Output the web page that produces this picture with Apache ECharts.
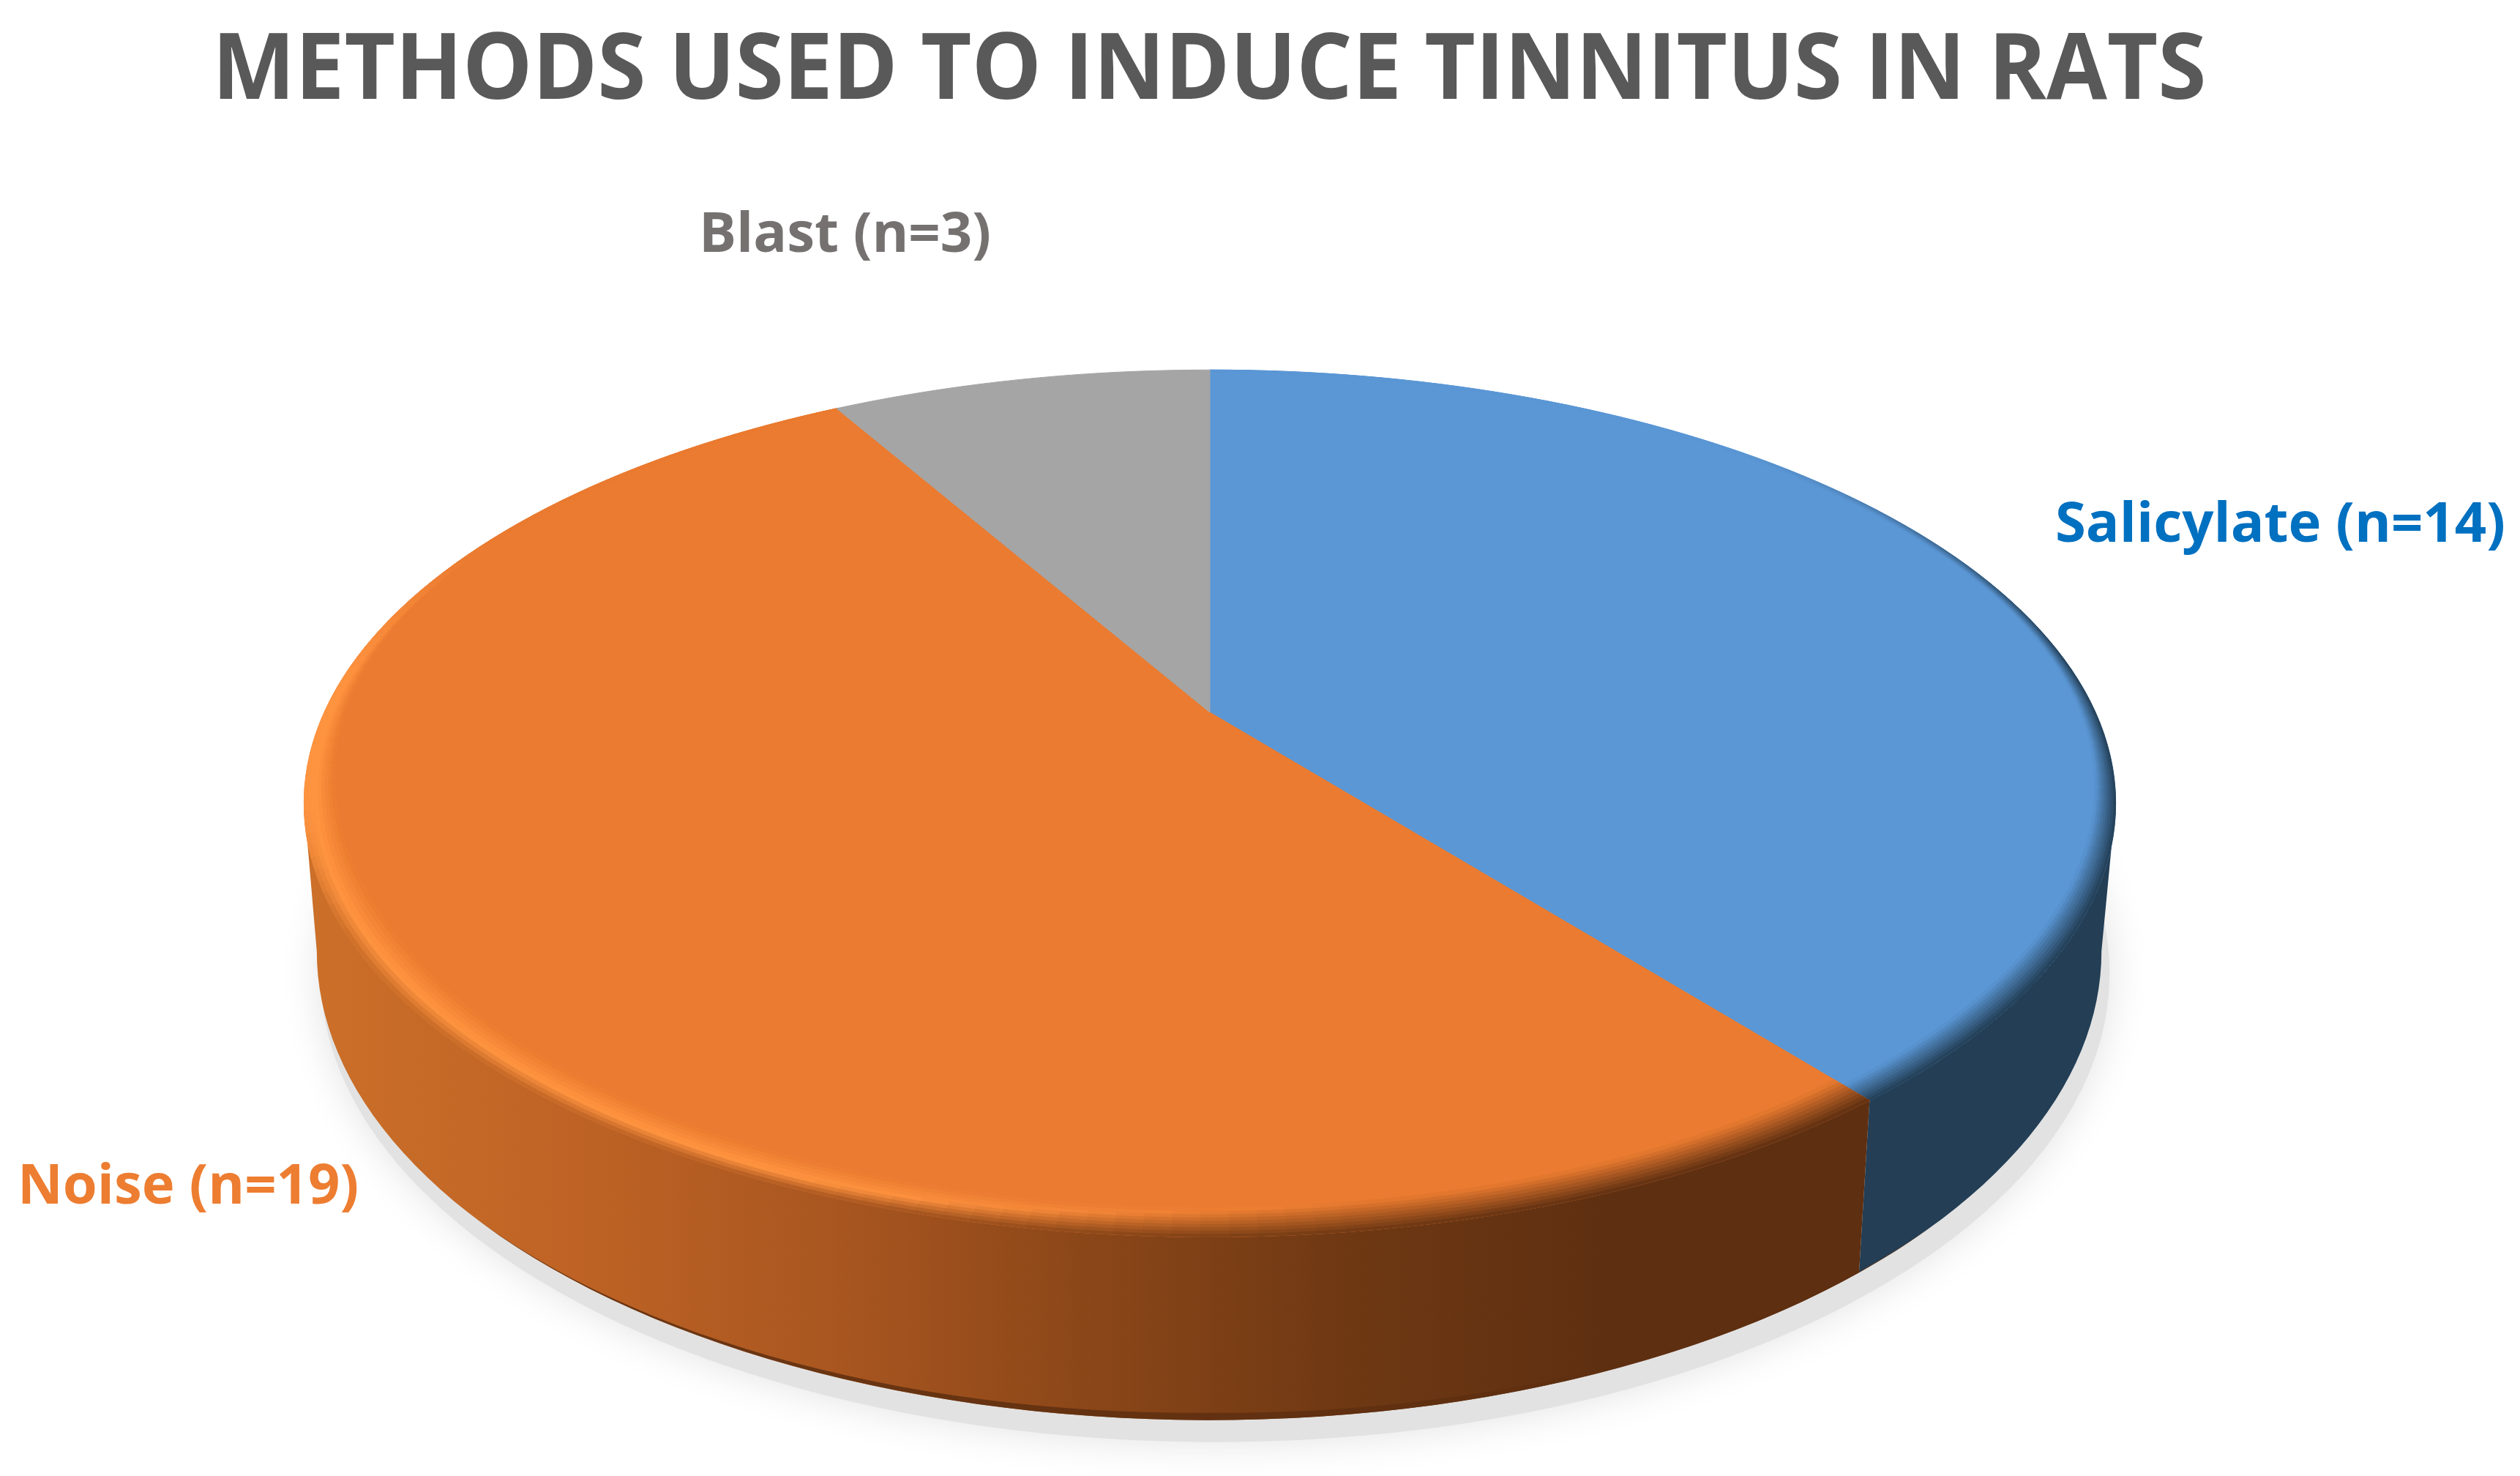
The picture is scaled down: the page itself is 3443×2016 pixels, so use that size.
<!DOCTYPE html>
<html>
<head>
<meta charset="utf-8">
<title>Methods used to induce tinnitus in rats</title>
<style>
  html, body { margin: 0; padding: 0; background: #fff; }
  #chart { width: 3443px; height: 2016px; }
</style>
<script src="https://cdn.jsdelivr.net/npm/echarts@6/dist/echarts.min.js"></script>
</head>
<body>
<div id="chart"></div>
<script>
const chartTitle = "METHODS USED TO INDUCE TINNITUS IN RATS";
const categories = ["Salicylate (n=14)", "Noise (n=19)", "Blast (n=3)"];
const counts = [14, 19, 3];

const topColors = ["#5B97D5", "#EA7B30", "#A5A5A5"];
const labelColors = ["#0070C0", "#ED7D31", "#767171"];
const labelPos = [[2808, 718], [24, 1622], [955, 322]];
const orangeWall = ["#CB6F29", "#BE6325", "#A95620", "#8A4618", "#6E3813", "#5E2F11", "#5E2F11"];
const blueWall = "#233E55";

// pie plane seen in perspective: near edge bigger than far edge
const persp = 0.21;
const angleWarp = 0.85; // small correction, the slice edges sit a bit further round in the picture
const topDisc = { cx: 1653, cy: 973, X: 1210, Y: 566 };
const lowDisc = { cx: 1652, cy: 1165, X: 1192, Y: 612 };
const shadowDisc = { cx: 1660, cy: 1195, X: 1195, Y: 612 };
const wallRange = [102.1, 257.9]; // part of the rim that faces the viewer
const STEP = 1.5;
const BANDS = 9;

const total = counts.reduce((a, b) => a + b, 0);

function project(d, r, deg) {
  const a = (deg * Math.PI) / 180;
  const u = r * Math.sin(a);
  const v = -r * Math.cos(a);
  const w = 1 - persp * v;
  return [d.cx + (d.X * u) / w, d.cy + (d.Y * v) / w];
}

function arc(d, r, from, to) {
  const pts = [];
  const n = Math.max(1, Math.ceil(Math.abs(to - from) / STEP));
  for (let i = 0; i <= n; i++) {
    pts.push(project(d, r, from + ((to - from) * i) / n));
  }
  return pts;
}

function warp(deg) {
  return deg + angleWarp * (1 - Math.cos((deg * Math.PI) / 180));
}

function sliceAngles(idx) {
  let sum = 0;
  for (let i = 0; i < idx; i++) sum += counts[i];
  return [warp((sum / total) * 360), warp(((sum + counts[idx]) / total) * 360)];
}

function smooth(a, b, x) {
  const t = Math.min(1, Math.max(0, (x - a) / (b - a)));
  return t * t * (3 - 2 * t);
}

function mix(c1, c2, t) {
  return echarts.color.lerp(Math.min(1, Math.max(0, t)), [c1, c2]);
}

function orangeAt(x) {
  const t = Math.min(1, Math.max(0, (x - 430) / (2560 - 430)));
  return echarts.color.lerp(t, orangeWall);
}

function bevelWidth(idx, deg) {
  if (idx === 0) return 0.012 + 0.022 * smooth(70, 135, deg);
  if (idx === 1) return 0.045 - 0.037 * smooth(235, 300, deg);
  return 0;
}

// colour of the bevel on the top face. t = 0 outer edge, 1 inner edge
function bevelColor(idx, deg, t, x) {
  const base = topColors[idx];
  if (idx === 0) {
    return mix(mix(base, blueWall, smooth(40, 85, deg)), base, t);
  }
  if (idx === 1) {
    const hl = smooth(170, 205, deg) * (1 - smooth(270, 300, deg));
    const peak = mix(base, "#FF9440", hl);
    const outer = mix(peak, orangeAt(x), 1 - smooth(240, 260, deg));
    const f = 1 - 0.6 * hl;
    return t < f ? mix(outer, peak, t / f) : mix(peak, base, (t - f) / (1 - f));
  }
  return base;
}

function renderShadow(params) {
  if (params.dataIndex !== 0) return { type: "group", children: [] };
  return {
    type: "polygon",
    shape: { points: arc(shadowDisc, 1, 0, 360) },
    style: { fill: "#E2E2E2", shadowColor: "#E2E2E2", shadowBlur: 55 },
    silent: true,
  };
}

function renderWall(params) {
  const idx = params.dataIndex;
  const [start, end] = sliceAngles(idx);
  const from = Math.max(start, wallRange[0]);
  const to = Math.min(end, wallRange[1]);
  if (to <= from) return { type: "group", children: [] };
  const pts = arc(topDisc, 1, from, to).concat(arc(lowDisc, 1, to, from));
  const fill = idx === 1
    ? new echarts.graphic.LinearGradient(430, 0, 2560, 0,
        orangeWall.map((c, i) => ({ offset: i / (orangeWall.length - 1), color: c })), true)
    : blueWall;
  const children = [{ type: "polygon", shape: { points: pts }, style: { fill: fill } }];
  if (idx === 1) {
    // dark lip on the underside, near the bottom of the wall
    const lower = arc(lowDisc, 1, 135, 225);
    const lip = lower.map((p, i) => {
      const deg = 135 + (90 * i) / (lower.length - 1);
      return [p[0], p[1] - 10 * (1 - Math.abs(deg - 180) / 45)];
    });
    children.push({
      type: "polygon",
      shape: { points: lower.concat(lip.reverse()) },
      style: { fill: "#5E2F11", opacity: 0.85 },
    });
  }
  return { type: "group", silent: true, children: children };
}

function renderTop(params) {
  const idx = params.dataIndex;
  const [from, to] = sliceAngles(idx);
  const children = [{
    type: "polygon",
    shape: { points: [[topDisc.cx, topDisc.cy]].concat(arc(topDisc, 1, from, to)) },
    style: { fill: topColors[idx], stroke: topColors[idx], lineWidth: 1 },
  }];
  if (bevelWidth(idx, from) > 0) {
    for (let deg = from; deg < to - 0.01; deg += STEP) {
      const next = Math.min(to, deg + STEP);
      const width = bevelWidth(idx, deg + STEP / 2);
      for (let b = 0; b < BANDS; b++) {
        const r0 = 1 - (width * b) / BANDS;
        const r1 = 1 - (width * (b + 1)) / BANDS;
        const a = project(topDisc, r0, deg);
        const c = bevelColor(idx, deg + STEP / 2, (b + 0.5) / BANDS, a[0]);
        children.push({
          type: "polygon",
          shape: { points: [a, project(topDisc, r0, next), project(topDisc, r1, next), project(topDisc, r1, deg)] },
          style: { fill: c, stroke: c, lineWidth: 1 },
        });
      }
    }
  }
  children.push({
    type: "text",
    style: {
      x: labelPos[idx][0],
      y: labelPos[idx][1],
      text: categories[idx],
      fill: labelColors[idx],
      font: 'bold 76px "Open Sans"',
      textAlign: "left",
      textVerticalAlign: "middle",
    },
  });
  return { type: "group", silent: true, children: children };
}

const chart = echarts.init(document.getElementById("chart"));
const seriesData = counts.map((c, i) => ({ name: categories[i], value: c }));

chart.setOption({
  animation: false,
  backgroundColor: "#fff",
  graphic: [{
    type: "text",
    x: 290,
    y: 99,
    scaleX: 0.953,
    silent: true,
    style: {
      text: chartTitle,
      fill: "#595959",
      font: 'bold 126px "Open Sans"',
      textAlign: "left",
      textVerticalAlign: "middle",
    },
  }],
  series: [
    { type: "custom", coordinateSystem: "none", renderItem: renderShadow, data: seriesData, z: 1 },
    { type: "custom", coordinateSystem: "none", renderItem: renderWall, data: seriesData, z: 2 },
    { type: "custom", coordinateSystem: "none", renderItem: renderTop, data: seriesData, z: 3 },
  ],
});
</script>
</body>
</html>
